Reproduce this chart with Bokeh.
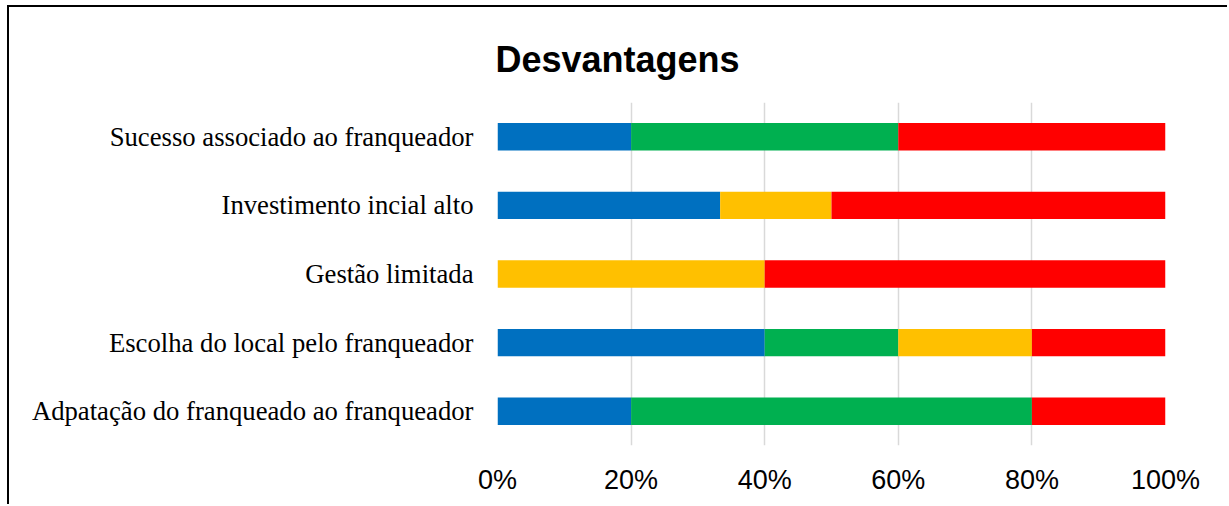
from bokeh.plotting import figure
from bokeh.models import FactorRange, Range1d, NumeralTickFormatter, FixedTicker, Title
from bokeh.embed import file_html
from bokeh.resources import INLINE

# Categories (bottom to top)
categories = [
    "Adpatação do franqueado ao franqueador",
    "Escolha do local pelo franqueador",
    "Gestão limitada",
    "Investimento incial alto",
    "Sucesso associado ao franqueador",
]
blue_vals = [0.20, 0.40, 0.00, 1/3, 0.20]
green_vals = [0.60, 0.20, 0.00, 0.00, 0.40]
yellow_vals = [0.00, 0.20, 0.40, 1/6, 0.00]
red_vals = [0.20, 0.20, 0.60, 0.50, 0.40]
x_ticks = [0, 0.2, 0.4, 0.6, 0.8, 1.0]
title_text = "Desvantagens"

series = ["azul", "verde", "amarelo", "vermelho"]
colors = ["#0070C0", "#00B050", "#FFC000", "#FF0000"]

data = dict(cat=categories, azul=blue_vals, verde=green_vals,
            amarelo=yellow_vals, vermelho=red_vals)

p = figure(width=1220, height=499, y_range=FactorRange(*categories),
           x_range=Range1d(0, 1), output_backend="svg", toolbar_location=None,
           min_border_left=488, min_border_right=64, min_border_top=95,
           min_border_bottom=61)
p.styles = {"border-top": "2px solid black", "border-left": "2px solid black",
            "margin-top": "5px", "margin-left": "7px"}

p.hbar_stack(series, y="cat", height=0.4, color=colors, source=data, line_width=0)

p.title = Title(text=title_text, align="left", offset=-2, standoff=42,
                vertical_align="top",
                text_font="Liberation Sans", text_font_size="36px",
                text_font_style="bold", text_color="#000000")

p.outline_line_color = None
p.background_fill_color = "white"
p.border_fill_color = "white"

p.xgrid.ticker = FixedTicker(ticks=x_ticks)
p.xgrid.grid_line_color = "#D9D9D9"
p.xgrid.grid_line_width = 1.5
p.ygrid.grid_line_color = None

p.xaxis.ticker = FixedTicker(ticks=x_ticks)
p.xaxis.formatter = NumeralTickFormatter(format="0%")
p.xaxis.axis_line_color = None
p.xaxis.major_tick_line_color = None
p.xaxis.minor_tick_line_color = None
p.xaxis.major_tick_in = 0
p.xaxis.major_tick_out = 0
p.xaxis.major_label_standoff = 19
p.xaxis.major_label_text_font = "Liberation Sans"
p.xaxis.major_label_text_font_size = "27px"
p.xaxis.major_label_text_color = "#000000"

p.yaxis.axis_line_color = None
p.yaxis.major_tick_line_color = None
p.yaxis.major_tick_in = 0
p.yaxis.major_tick_out = 0
p.yaxis.major_label_standoff = 24
p.yaxis.major_label_text_font = "Liberation Serif"
p.yaxis.major_label_text_font_size = "26.7px"
p.yaxis.major_label_text_color = "#000000"

open("out.html", "w").write(file_html(p, INLINE))
